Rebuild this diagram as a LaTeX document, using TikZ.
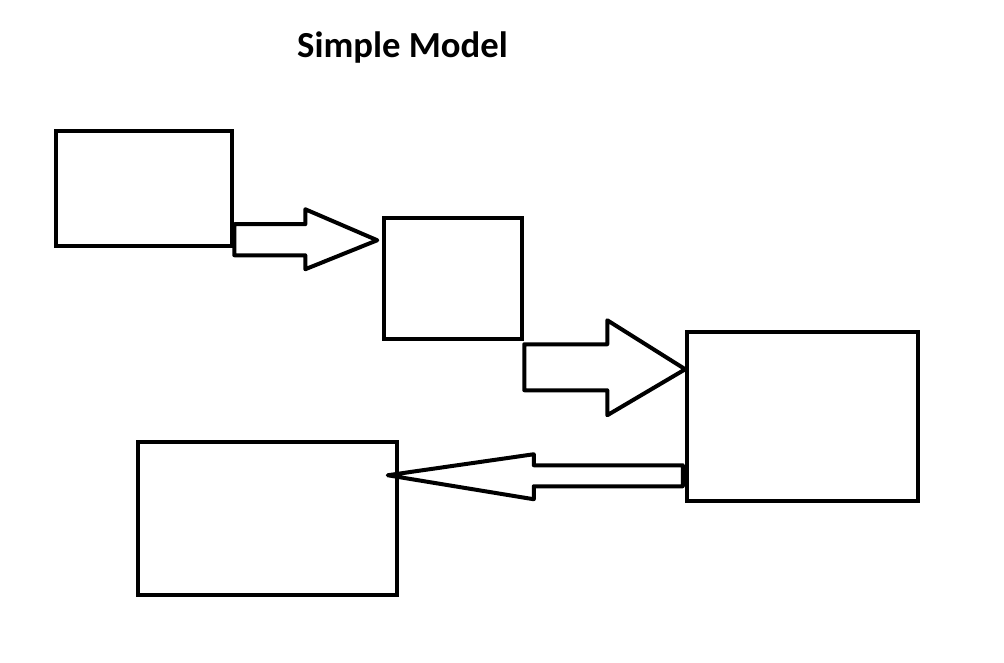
\documentclass[tikz,border=0pt]{standalone}
\usepackage{fontspec}
\setmainfont{Carlito}
\begin{document}
\begin{tikzpicture}[x=1pt, y=-1pt,
  box/.style={draw, shape=rectangle, line width=4.5pt, inner sep=0pt},
  blockarrow/.style={draw, line width=4pt, line join=round}]
\useasboundingbox (0,0) rectangle (1004,663);
\node (title) [anchor=base, font=\fontsize{36.7}{40}\selectfont\bfseries] at (402.5,58) {Simple Model};
\node (first) [box, minimum width=176pt, minimum height=115pt] at (144,188.5) {};
\node (second) [box, minimum width=138pt, minimum height=121pt] at (453,278.5) {};
\node (third) [box, minimum width=231pt, minimum height=169pt] at (802.5,416.5) {};
\node (fourth) [box, minimum width=259pt, minimum height=153pt] at (267.5,518.5) {};
\draw[blockarrow] (first.south east) ++(0,-24) -- ++(71,0) -- ++(0,-15) -- ++(72,31) -- ++(-72,29) -- ++(0,-14) -- ++(-71,0) -- cycle;
\draw[blockarrow] (second.south east) ++(0,3) -- ++(83,0) -- ++(0,-24) -- ++(78,49) -- ++(-78,46) -- ++(0,-25) -- ++(-83,0) -- cycle;
\draw[blockarrow] (third.south west) ++(-2,-38) -- ++(-149,0) -- ++(0,-11) -- ++(-146,21) -- ++(146,24) -- ++(0,-13) -- ++(149,0) -- cycle;
\end{tikzpicture}
\end{document}
